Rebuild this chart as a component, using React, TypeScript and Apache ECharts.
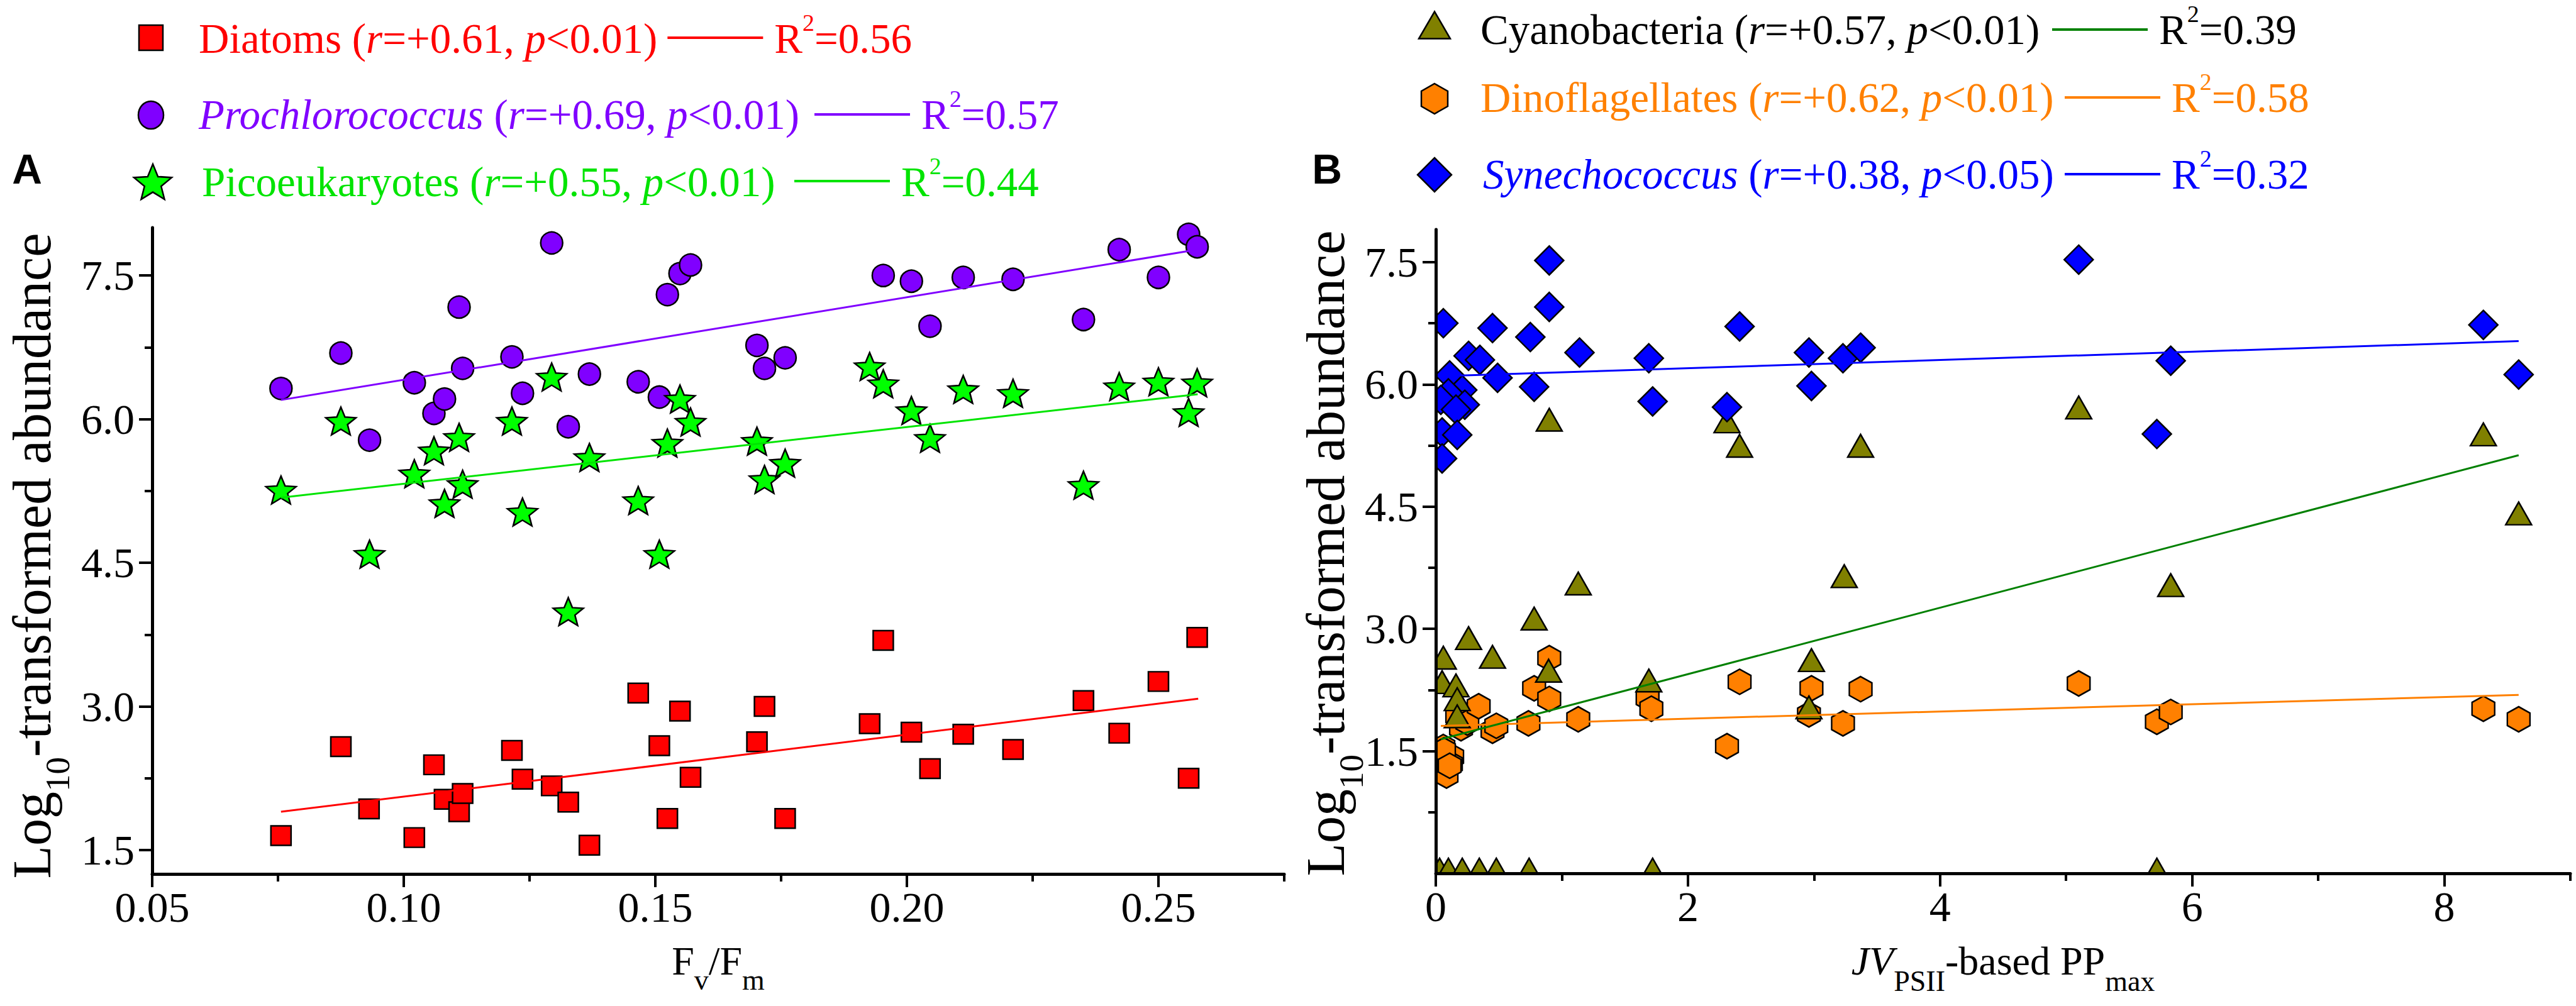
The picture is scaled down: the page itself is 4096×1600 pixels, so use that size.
import React, { useEffect, useRef } from 'react';
import * as echarts from 'echarts';

// ---------------- Panel A : Fv/Fm vs log10-transformed abundance ----------------
const diatoms: number[][] = [
  [0.0756, 1.65], [0.0875, 2.58], [0.0931, 1.93], [0.1021, 1.63], [0.1060, 2.39], [0.1081, 2.03], [0.1110, 1.90], [0.1117, 2.09],
  [0.1215, 2.54], [0.1236, 2.24], [0.1294, 2.17], [0.1327, 2.00], [0.1369, 1.55], [0.1466, 3.14], [0.1508, 2.59], [0.1524, 1.83],
  [0.1549, 2.95], [0.1570, 2.26], [0.1702, 2.63], [0.1717, 3.00], [0.1758, 1.83], [0.1926, 2.82], [0.1953, 3.69], [0.2009, 2.73],
  [0.2046, 2.35], [0.2112, 2.71], [0.2211, 2.55], [0.2351, 3.06], [0.2422, 2.72], [0.2500, 3.26], [0.2560, 2.25], [0.2577, 3.72],
];
const prochlorococcus: number[][] = [
  [0.0756, 6.32], [0.0875, 6.69], [0.0932, 5.78], [0.1021, 6.38], [0.1060, 6.06], [0.1081, 6.21], [0.1110, 7.17], [0.1117, 6.53],
  [0.1215, 6.65], [0.1236, 6.27], [0.1294, 7.84], [0.1327, 5.92], [0.1369, 6.47], [0.1466, 6.39], [0.1508, 6.23], [0.1524, 7.30],
  [0.1549, 7.52], [0.1570, 7.61], [0.1702, 6.77], [0.1717, 6.53], [0.1758, 6.64], [0.1953, 7.50], [0.2009, 7.44], [0.2046, 6.97],
  [0.2112, 7.48], [0.2211, 7.46], [0.2351, 7.04], [0.2422, 7.77], [0.2500, 7.48], [0.2560, 7.93], [0.2577, 7.80],
];
const picoeukaryotes: number[][] = [
  [0.0756, 5.26], [0.0875, 5.98], [0.0932, 4.59], [0.1021, 5.43], [0.1060, 5.67], [0.1081, 5.12], [0.1110, 5.81], [0.1117, 5.32],
  [0.1215, 5.98], [0.1236, 5.03], [0.1294, 6.44], [0.1327, 3.99], [0.1369, 5.60], [0.1466, 5.15], [0.1508, 4.59], [0.1524, 5.75],
  [0.1549, 6.21], [0.1570, 5.97], [0.1702, 5.77], [0.1717, 5.37], [0.1758, 5.54], [0.1926, 6.55], [0.1953, 6.37], [0.2009, 6.09],
  [0.2046, 5.80], [0.2112, 6.31], [0.2211, 6.27], [0.2351, 5.31], [0.2422, 6.34], [0.2500, 6.39], [0.2560, 6.07], [0.2577, 6.38],
];
const diatomsFit = [[0.0756, 1.90], [0.2579, 3.08]];
const prochlorococcusFit = [[0.0756, 6.20], [0.2577, 7.77]];
const picoeukaryotesFit = [[0.0756, 5.18], [0.2578, 6.26]];

// ---------------- Panel B : JV_PSII-based PPmax vs log10-transformed abundance ----------------
const synechococcus: number[][] = [
  [0.90, 7.52], [0.90, 6.95], [0.06, 6.75], [0.45, 6.69], [0.75, 6.58], [1.14, 6.39], [0.26, 6.35], [0.35, 6.30], [0.11, 6.11],
  [0.49, 6.08], [0.78, 5.97], [0.21, 5.93], [0.10, 5.89], [0.04, 5.81], [0.23, 5.75], [0.16, 5.69], [0.05, 5.41], [0.17, 5.38],
  [0.05, 5.09], [1.69, 6.32], [1.72, 5.79], [2.31, 5.72], [2.41, 6.71], [2.96, 6.39], [2.98, 5.98], [3.23, 6.32], [3.37, 6.45],
  [5.10, 7.53], [5.72, 5.39], [5.83, 6.29], [8.31, 6.73], [8.59, 6.12],
];
const cyanobacteria: number[][] = [
  [0.03, 0], [0.10, 0], [0.21, 0], [0.345, 0], [0.48, 0], [0.74, 0], [1.72, 0], [5.72, 0],
  [0.06, 2.60], [0.05, 2.30], [0.16, 2.26], [0.17, 2.09], [0.17, 1.88], [0.26, 2.84], [0.45, 2.61], [0.78, 3.08],
  [0.895, 2.44], [1.13, 3.51], [0.90, 5.52], [1.69, 2.32], [2.31, 5.50], [2.41, 5.20], [2.96, 1.99], [2.98, 2.57],
  [3.24, 3.60], [3.37, 5.20], [5.10, 5.67], [5.83, 3.49], [8.31, 5.34], [8.59, 4.37],
];
const dinoflagellates: number[][] = [
  [0.06, 1.55], [0.13, 1.43], [0.12, 1.34], [0.06, 1.27], [0.085, 1.20], [0.065, 1.51], [0.11, 1.32], [0.17, 1.93],
  [0.20, 1.78], [0.25, 1.85], [0.34, 2.05], [0.45, 1.75], [0.48, 1.81], [0.735, 1.84], [0.78, 2.27], [0.90, 2.64],
  [0.90, 2.14], [1.13, 1.89], [1.68, 2.15], [1.71, 2.02], [2.31, 1.56], [2.41, 2.35], [2.96, 1.95], [2.98, 2.27],
  [3.23, 1.84], [3.37, 2.26], [5.10, 2.33], [5.72, 1.86], [5.83, 1.98], [8.31, 2.02], [8.59, 1.89],
];
const synechococcusFit = [[0.04, 6.10], [8.59, 6.53]];
const cyanobacteriaFit = [[0.04, 1.645], [8.59, 5.13]];
const dinoflagellatesFit = [[0.04, 1.81], [8.59, 2.19]];

// ---------------- Axis ticks ----------------
const xTicksA = [0.05, 0.10, 0.15, 0.20, 0.25];
const xMinorA = [0.075, 0.125, 0.175, 0.225, 0.275];
const yTicks = [1.5, 3.0, 4.5, 6.0, 7.5];
const yMinorA = [2.25, 3.75, 5.25, 6.75];
const xTicksB = [0, 2, 4, 6, 8];
const xMinorB = [1, 3, 5, 7, 9];
const yMinorB = [0.75, 2.25, 3.75, 5.25, 6.75];

// ---------------- Legend texts ----------------
const legendA = [
  { name: 'Diatoms', italic: false, r: '+0.61', p: '<0.01', r2: '0.56', text: '#ff0000', line: '#ff0000' },
  { name: 'Prochlorococcus', italic: true, r: '+0.69', p: '<0.01', r2: '0.57', text: '#8000ff', line: '#8000ff' },
  { name: 'Picoeukaryotes', italic: false, r: '+0.55', p: '<0.01', r2: '0.44', text: '#00e400', line: '#00e400' },
];
const legendB = [
  { name: 'Cyanobacteria', italic: false, r: '+0.57', p: '<0.01', r2: '0.39', text: '#000000', line: '#008000' },
  { name: 'Dinoflagellates', italic: false, r: '+0.62', p: '<0.01', r2: '0.58', text: '#ff8000', line: '#ff8000' },
  { name: 'Synechococcus', italic: true, r: '+0.38', p: '<0.05', r2: '0.32', text: '#0000ff', line: '#0000ff' },
];

const SERIF = 'Liberation Serif';
const CENTRAL = 0.3375;
const STAR_PATH = 'path://M50,0L62.93,32.2L97.55,34.55L70.92,56.8L79.39,90.45L50,72L20.61,90.45L29.08,56.8L2.45,34.55L37.07,32.2Z';
const HEX_PATH = 'path://M50,0L93.3,25L93.3,75L50,100L6.7,75L6.7,25Z';

export default function App() {
  const ref = useRef<HTMLDivElement>(null);
  useEffect(() => {
    document.body.style.margin = '0';
    const chart = echarts.init(ref.current as HTMLDivElement, null, { renderer: 'svg' });
    const ctx = document.createElement('canvas').getContext('2d') as CanvasRenderingContext2D;
    const measure = (t: string, size: number, italic = false) => {
      ctx.font = `${italic ? 'italic' : 'normal'} normal ${size}px "Liberation Serif"`;
      return ctx.measureText(t).width;
    };
    type Seg = { t: string; s: number; it?: boolean; dy?: number };
    const txt = (t: string, x: number, baseline: number, size: number, color: string, align: string, italic = false) => ({
      type: 'text', x, y: baseline - CENTRAL * size, z: 20, silent: true,
      style: { text: t, fontSize: size, fontFamily: SERIF, fontStyle: italic ? 'italic' : 'normal', fill: color, align, verticalAlign: 'middle' },
    });
    const run = (segs: Seg[], x0: number, baseline: number, color: string) => {
      const els: any[] = [];
      let x = x0;
      segs.forEach((g) => {
        els.push(txt(g.t, x, baseline + (g.dy || 0), g.s, color, 'left', !!g.it));
        x += measure(g.t, g.s, !!g.it);
      });
      return { els, width: x - x0 };
    };
    const widthOf = (segs: Seg[]) => segs.reduce((a, g) => a + measure(g.t, g.s, !!g.it), 0);

    const FS = 67;
    const legendRow = (item: any, x0: number, baseline: number, lineY: number, lineX: number) => {
      const segs: Seg[] = [
        { t: item.name, s: FS, it: item.italic }, { t: ' (', s: FS }, { t: 'r', s: FS, it: true },
        { t: '=' + item.r + ', ', s: FS }, { t: 'p', s: FS, it: true }, { t: item.p + ')', s: FS },
      ];
      const a = run(segs, x0, baseline, item.text);
      const lx0 = Math.max(x0 + a.width + 16, lineX);
      const lx1 = lx0 + 152;
      const line = { type: 'line', z: 20, silent: true, shape: { x1: lx0, y1: lineY, x2: lx1, y2: lineY }, style: { stroke: item.line, lineWidth: 4 } };
      const b = run([{ t: 'R', s: FS }, { t: '2', s: 38, dy: -35 }, { t: '=' + item.r2, s: FS }], lx1 + 18, baseline, item.text);
      return [...a.els, line, ...b.els];
    };

    const mk = (fill: string) => ({ fill, stroke: '#000', lineWidth: 2.5 });
    const poly = (pts: number[][], fill: string) => ({ type: 'polygon', z: 20, silent: true, shape: { points: pts }, style: mk(fill) });
    const starPts = (cx: number, cy: number, w: number, h: number) => {
      const Rx = w / 1.902, Ry = h / 1.809;
      const c = cy + 0.0955 * Ry;
      const pts: number[][] = [];
      for (let i = 0; i < 10; i++) {
        const ang = -Math.PI / 2 + (i * Math.PI) / 5;
        const r = i % 2 === 0 ? 1 : 0.44;
        pts.push([cx + Math.cos(ang) * r * Rx, c + Math.sin(ang) * r * Ry]);
      }
      return pts;
    };
    const hexPts = (cx: number, cy: number, w: number, h: number) => [
      [cx, cy - h / 2], [cx + w / 2, cy - h / 4], [cx + w / 2, cy + h / 4], [cx, cy + h / 2], [cx - w / 2, cy + h / 4], [cx - w / 2, cy - h / 4],
    ];
    const triPts = (cx: number, cy: number, w: number, h: number) => [[cx, cy - h / 2], [cx + w / 2, cy + h / 2], [cx - w / 2, cy + h / 2]];
    const diaPts = (cx: number, cy: number, w: number, h: number) => [[cx, cy - h / 2], [cx + w / 2, cy], [cx, cy + h / 2], [cx - w / 2, cy]];

    const graphics: any[] = [];
    // legend A
    graphics.push({ type: 'rect', z: 20, silent: true, shape: { x: 221, y: 40, width: 38, height: 40 }, style: mk('#ff0000') });
    graphics.push({ type: 'ellipse', z: 20, silent: true, shape: { cx: 240, cy: 183, rx: 20, ry: 22 }, style: mk('#8000ff') });
    graphics.push(poly(starPts(243, 289, 60, 56), '#00ff00'));
    graphics.push(...legendRow(legendA[0], 316, 84, 60, 1059));
    graphics.push(...legendRow(legendA[1], 316, 205, 182, 1295));
    graphics.push(...legendRow(legendA[2], 321, 312, 288, 1263));
    // legend B
    graphics.push(poly(triPts(2281, 40, 50, 43), '#808000'));
    graphics.push(poly(hexPts(2281, 157, 42, 48), '#ff8000'));
    graphics.push(poly(diaPts(2281, 278, 54, 54), '#0000ff'));
    graphics.push(...legendRow(legendB[0], 2354, 70, 47, 3263));
    graphics.push(...legendRow(legendB[1], 2354, 178, 155, 3283));
    graphics.push(...legendRow(legendB[2], 2358, 300, 277, 3283));

    // panel letters
    ['A', 'B'].forEach((L, i) => {
      graphics.push({
        type: 'text', z: 20, silent: true, x: i === 0 ? 43 : 2110, y: 269,
        style: { text: L, fontSize: 66, fontWeight: 'bold', fontFamily: 'Liberation Sans', fill: '#000', align: 'center', verticalAlign: 'middle' },
      });
    });

    // y-axis titles (rotated)
    const ySegs: Seg[] = [{ t: 'Log', s: 86 }, { t: '10', s: 55, dy: 30 }, { t: '-transformed abundance', s: 86 }];
    const yW = widthOf(ySegs);
    [[80, 884], [2137, 880]].forEach(([bx, cy]) => {
      graphics.push({ type: 'group', x: bx, y: cy, rotation: Math.PI / 2, children: run(ySegs, -yW / 2, 0, '#000').els });
    });

    // x-axis titles
    const xSegsA: Seg[] = [{ t: 'F', s: 64 }, { t: 'v', s: 46, dy: 24 }, { t: '/F', s: 64 }, { t: 'm', s: 46, dy: 24 }];
    graphics.push(...run(xSegsA, 1142 - widthOf(xSegsA) / 2, 1550, '#000').els);
    const xSegsB: Seg[] = [{ t: 'JV', s: 64, it: true }, { t: 'PSII', s: 46, dy: 26 }, { t: '-based PP', s: 64 }, { t: 'max', s: 46, dy: 26 }];
    graphics.push(...run(xSegsB, 3185 - widthOf(xSegsB) / 2, 1550, '#000').els);

    // white masks: clip panel B markers at the axes (axes drawn above)
    graphics.push({ type: 'rect', z: 8, silent: true, shape: { x: 2160, y: 330, width: 121, height: 1100 }, style: { fill: '#fff' } });
    graphics.push({ type: 'rect', z: 8, silent: true, shape: { x: 2160, y: 1392, width: 1936, height: 26 }, style: { fill: '#fff' } });

    const axisPair = (dim: 'x' | 'y', grid: number, min: number, max: number, major: number[], minor: number[]) => {
      const pos = dim === 'x' ? 'bottom' : 'left';
      return [
        {
          type: 'value', gridIndex: grid, position: pos, min, max, z: 10,
          axisLine: { show: true, onZero: false, lineStyle: { color: '#000', width: 5 } },
          axisTick: { show: true, inside: false, length: 21, customValues: major, lineStyle: { color: '#000', width: 4 } },
          axisLabel: { show: false },
          splitLine: { show: false }, minorTick: { show: false },
        },
        {
          type: 'value', gridIndex: grid, position: pos, min, max, z: 10,
          axisLine: { show: false, onZero: false },
          axisTick: { show: true, inside: false, length: 12, customValues: minor, lineStyle: { color: '#000', width: 4 } },
          axisLabel: { show: false }, splitLine: { show: false },
        },
      ];
    };

    const sc = (name: string, data: number[][], ai: number, symbol: string, size: number[], color: string, z: number, offset = [0, 0]) => ({
      type: 'scatter', name, data, xAxisIndex: ai, yAxisIndex: ai, symbol, symbolSize: size, symbolOffset: offset, z,
      clip: false, silent: true, emphasis: { disabled: true },
      itemStyle: { color, borderColor: '#000', borderWidth: 2.5, opacity: 1 },
    });
    const fit = (name: string, data: number[][], ai: number, color: string) => ({
      type: 'line', name, data, xAxisIndex: ai, yAxisIndex: ai, symbol: 'none', z: 6, silent: true,
      lineStyle: { color, width: 3 },
    });

    const grids = [
      { left: 242, top: 362, width: 1800, height: 1028, show: false },
      { left: 2283, top: 365, width: 1804, height: 1024, show: false },
    ];
    const option: any = {
      animation: false,
      backgroundColor: '#ffffff',
      textStyle: { fontFamily: SERIF },
      grid: grids,
      xAxis: [
        ...axisPair('x', 0, 0.05, 0.275, xTicksA, xMinorA),
        ...axisPair('x', 1, 0, 9, xTicksB, xMinorB),
      ],
      yAxis: [
        ...axisPair('y', 0, 1.25, 8.0, yTicks, yMinorA),
        ...axisPair('y', 1, 0, 7.9, yTicks, yMinorB),
      ],
      series: [
        sc('Diatoms', diatoms, 0, 'rect', [32, 31], '#ff0000', 2),
        sc('Prochlorococcus', prochlorococcus, 0, 'circle', [35, 35], '#8000ff', 3),
        sc('Picoeukaryotes', picoeukaryotes, 0, STAR_PATH, [48, 44], '#00ff00', 4),
        fit('Diatoms fit', diatomsFit, 0, '#ff0000'),
        fit('Prochlorococcus fit', prochlorococcusFit, 0, '#8000ff'),
        fit('Picoeukaryotes fit', picoeukaryotesFit, 0, '#00e400'),
        sc('Dinoflagellates', dinoflagellates, 2, HEX_PATH, [36, 40], '#ff8000', 2),
        sc('Cyanobacteria', cyanobacteria, 2, 'triangle', [41, 36], '#808000', 3, [0, -6]),
        sc('Synechococcus', synechococcus, 2, 'diamond', [46, 46], '#0000ff', 4),
        fit('Dinoflagellates fit', dinoflagellatesFit, 2, '#ff8000'),
        fit('Cyanobacteria fit', cyanobacteriaFit, 2, '#008000'),
        fit('Synechococcus fit', synechococcusFit, 2, '#0000ff'),
      ],
    };
    chart.setOption(option);

    // tick labels positioned through the axes' own scales
    const LS = 68;
    const xLab = (axis: number, vals: number[], fmt: (v: number) => string, axisY: number) => {
      vals.forEach((v) => {
        const px = chart.convertToPixel({ xAxisIndex: axis }, v) as unknown as number;
        graphics.push(txt(fmt(v), px, axisY + 76, LS, '#000', 'center'));
      });
    };
    const yLab = (axis: number, vals: number[], fmt: (v: number) => string, axisX: number) => {
      vals.forEach((v) => {
        const py = chart.convertToPixel({ yAxisIndex: axis }, v) as unknown as number;
        graphics.push(txt(fmt(v), axisX - 28, py + 23, LS, '#000', 'right'));
      });
    };
    xLab(0, xTicksA, (v) => v.toFixed(2), grids[0].top + grids[0].height);
    xLab(2, xTicksB, (v) => String(v), grids[1].top + grids[1].height);
    yLab(0, yTicks, (v) => v.toFixed(1), grids[0].left);
    yLab(2, yTicks, (v) => v.toFixed(1), grids[1].left);

    chart.setOption({ graphic: graphics });
    return () => chart.dispose();
  }, []);
  return <div ref={ref} style={{ position: 'absolute', left: 0, top: 0, width: 4096, height: 1600, background: '#fff' }} />;
}
